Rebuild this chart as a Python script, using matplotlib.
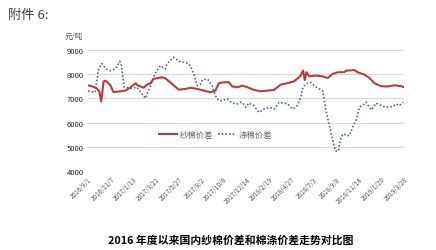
import pandas as pd
import matplotlib
matplotlib.use("Agg")
import matplotlib.pyplot as plt

plt.rcParams['font.family'] = ['Noto Sans CJK SC', 'DejaVu Sans']

start = pd.Timestamp("2016-09-01")

# 纱棉价差: 自 2016/9/1 起的天数, 数值 (元/吨)
yarn_days = [0, 15, 25, 33, 39, 46, 51, 56, 66, 75, 90, 110, 125, 140, 150,
             165, 175, 185, 194, 219, 229, 249, 269, 289, 304, 324, 343, 363,
             378, 388, 403, 418, 428, 443, 458, 473, 492, 512, 532, 552, 572,
             592, 611, 626, 631, 638, 643, 648, 656, 676, 696, 711, 726, 741,
             760, 765, 790, 800, 820, 835, 850, 870, 890, 909, 929, 938]
yarn_vals = [7540, 7480, 7420, 7300, 6870, 7700, 7730, 7680, 7550, 7260, 7280,
             7320, 7440, 7620, 7520, 7440, 7570, 7620, 7800, 7870, 7830, 7600,
             7360, 7390, 7440, 7390, 7320, 7250, 7320, 7625, 7665, 7665, 7490,
             7460, 7525, 7460, 7350, 7290, 7320, 7350, 7570, 7625, 7705, 7870,
             7950, 8150, 7750, 8080, 7910, 7940, 7910, 7840, 8010, 8080, 8080,
             8140, 8170, 8080, 7980, 7840, 7625, 7500, 7490, 7540, 7500, 7460]

# 涤棉价差
poly_days = [0, 21, 31, 41, 54, 66, 75, 85, 94, 98, 101, 107, 128, 145, 160,
             170, 185, 190, 200, 214, 229, 234, 254, 274, 289, 299, 304, 314,
             324, 334, 340, 355, 363, 368, 378, 388, 398, 413, 428, 443, 456,
             468, 477, 492, 507, 522, 537, 552, 567, 582, 592, 607, 621, 631,
             636, 646, 661, 671, 686, 696, 706, 715, 726, 734, 742, 748, 756,
             775, 785, 795, 805, 820, 825, 840, 855, 870, 884, 904, 914, 924,
             935]
poly_vals = [7300, 7250, 8200, 8440, 8210, 8140, 8180, 8280, 8530, 8420, 8140,
             7460, 7420, 7460, 7180, 7000, 7500, 7730, 8050, 8350, 8210, 8420,
             8700, 8500, 8490, 8420, 8320, 8000, 7525, 7600, 7780, 7790, 7625,
             7525, 7110, 6900, 6900, 6975, 6800, 6770, 6850, 6630, 6800, 6700,
             6420, 6560, 6630, 6560, 6840, 6800, 6770, 6560, 6700, 7040, 7390,
             7600, 7665, 7525, 7390, 7320, 6490, 5940, 5250, 4830, 4810, 5250,
             5530, 5450, 5810, 6080, 6630, 6770, 6840, 6520, 6800, 6700, 6630,
             6660, 6770, 6700, 6840]

tick_labels = ["2016/9/1", "2016/11/7", "2017/1/13", "2017/3/21", "2017/5/27",
               "2017/8/2", "2017/10/8", "2017/12/14", "2018/2/19", "2018/4/27",
               "2018/7/3", "2018/9/8", "2018/11/14", "2019/1/20", "2019/3/28"]
y_ticks = [4000, 5000, 6000, 7000, 8000, 9000]

yarn_x = [start + pd.Timedelta(days=d) for d in yarn_days]
poly_x = [start + pd.Timedelta(days=d) for d in poly_days]
tick_x = [pd.Timestamp(t.replace("/", "-")) for t in tick_labels]

fig = plt.figure(figsize=(4.36, 2.51), dpi=100)
ax = fig.add_axes([0.202, 0.315, 0.725, 0.482])

ax.plot(yarn_x, yarn_vals, color="#bd3b3b", lw=1.5, label="纱棉价差", zorder=3)
ax.plot(poly_x, poly_vals, color="#4a6b9b", lw=1.2, ls=(0, (1, 1.2)),
        label="涤棉价差", zorder=2)

ax.set_xlim(tick_x[0], tick_x[-1])
ax.set_ylim(4000, 9000)
ax.set_yticks(y_ticks)
ax.set_yticklabels([str(v) for v in y_ticks], fontsize=5.5, color="#222222")
ax.set_xticks(tick_x)
ax.set_xticklabels(tick_labels, rotation=45, ha="right", va="top",
                   rotation_mode="anchor", fontsize=4.6, color="#555555")
ax.tick_params(length=0, pad=3)
ax.grid(axis="y", color="#d9d9d9", lw=0.8)
for s in ax.spines.values():
    s.set_visible(False)

ax.legend(loc="upper left", bbox_to_anchor=(0.2, 0.4), frameon=False,
          ncol=2, fontsize=6, handlelength=2.2, columnspacing=0.6,
          handletextpad=0.3, labelcolor="#666666")

fig.text(0.148, 0.845, "元/吨", fontsize=5.5, color="#555555")
fig.text(0.018, 0.94, "附件 6:", fontsize=9.5, color="#444444", va="center")
fig.text(0.53, 0.028, "2016 年度以来国内纱棉价差和棉涤价差走势对比图",
         fontsize=7.8, fontweight="bold", ha="center", color="black")

fig.savefig("out.png", dpi=100)
